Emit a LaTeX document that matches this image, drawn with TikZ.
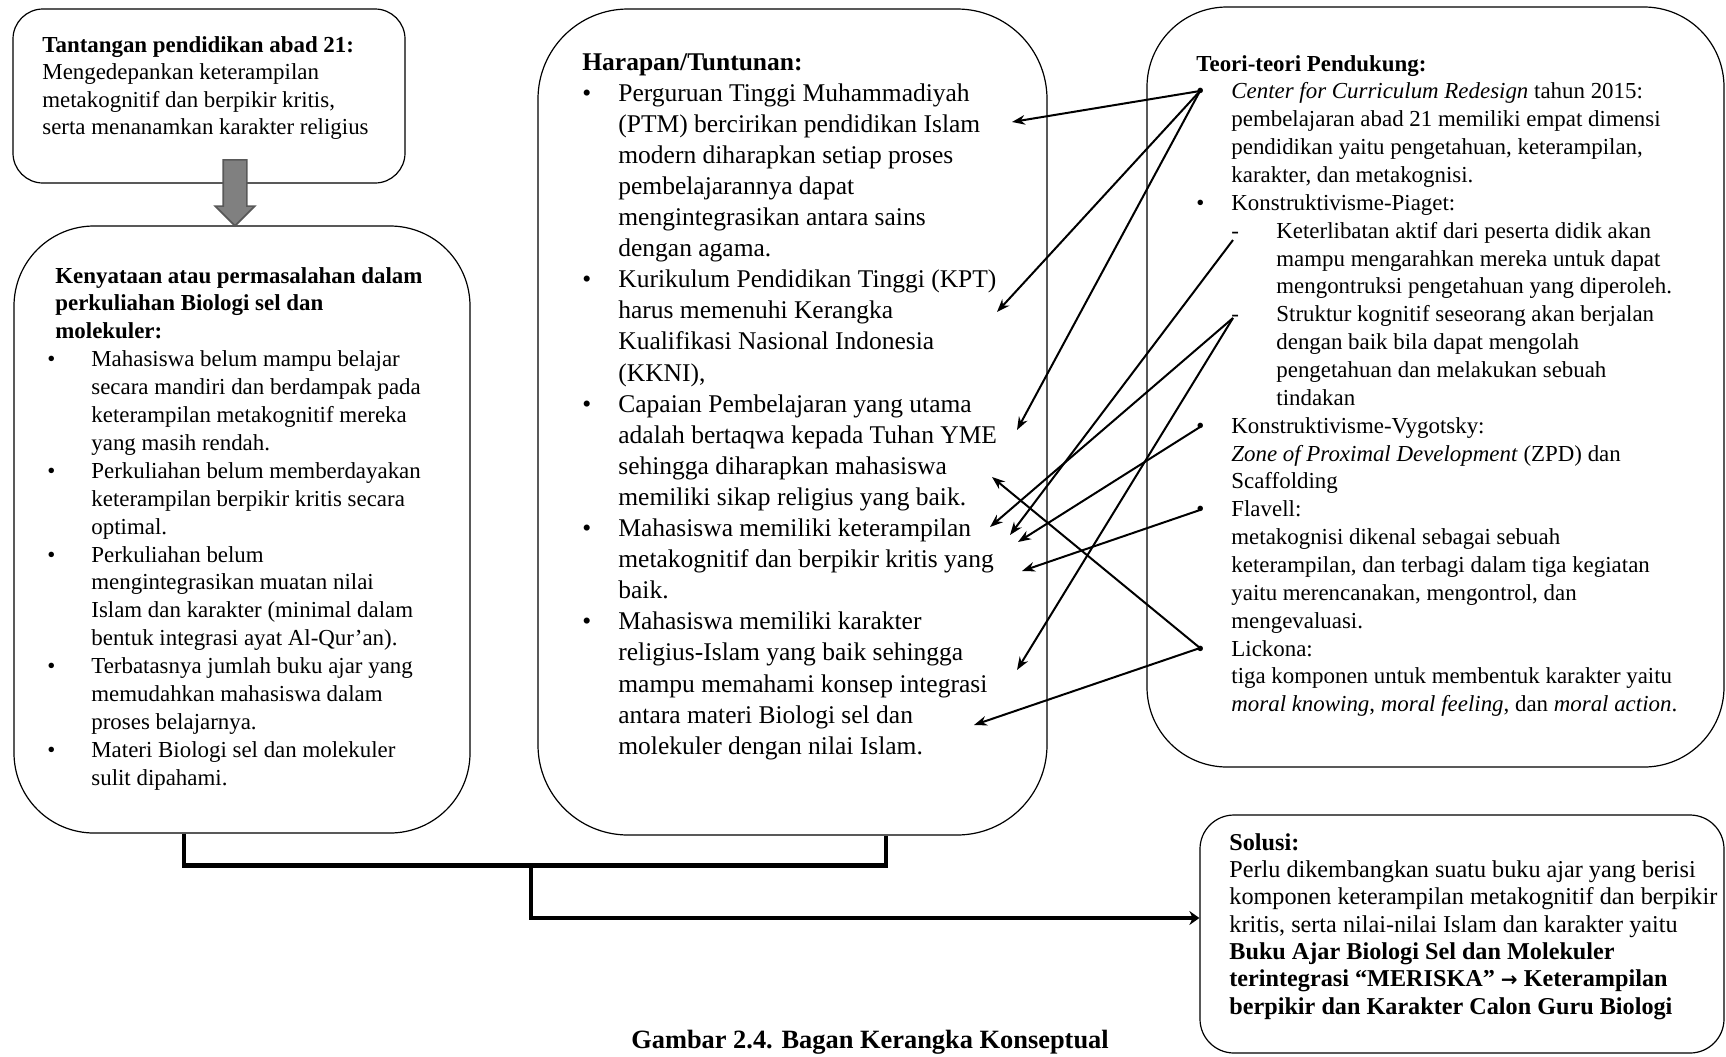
\documentclass[tikz,border=0pt]{standalone}
\usepackage{fontspec}
\setmainfont{Liberation Serif}
\newfontfamily\panahfont{DejaVu Sans}
\usetikzlibrary{shapes.arrows,fit,arrows.meta}

\newcommand{\judul}[1]{\multicolumn{2}{@{}l@{}}{\textbf{#1}}}
\newcommand{\anakbutir}{\makebox[22.5pt][l]{-}}
\newcommand{\anaksisa}{\hspace*{22.5pt}}

\tikzset{
  kotak/.style={draw, line width=0.6pt, inner sep=0pt},
  teks/.style={anchor=base west, inner sep=0pt},
  panah/.style={->, >={Stealth[length=6.5pt,width=4.8pt]}, line width=1pt},
  garis/.style={line width=2.2pt},
}

\begin{document}
\begin{tikzpicture}[x=0.5pt, y=-0.5pt]
  \useasboundingbox (0,0) rectangle (1726,1056);
  % --------
  % Kotak
  % --------
  \node[kotak, rounded corners=15pt, fit={(13,9) (405,183)}] (tantangan) {};
  \node[kotak, rounded corners=40pt, fit={(14,226) (470,833)}] (kenyataan) {};
  \node[kotak, rounded corners=45pt, fit={(538,9) (1047,835)}] (harapan) {};
  \node[kotak, rounded corners=40pt, fit={(1147,7) (1724,767)}] (teori) {};
  \node[kotak, rounded corners=17pt, fit={(1200,815) (1724,1053)}] (solusi) {};

  % --------
  % Isi kotak
  % --------
  \node[teks, font=\fontsize{11.45}{13.75}\selectfont] at (42,52) (tantanganTeks) {%
    \begin{tabular}[t]{@{}l@{}}
      \textbf{Tantangan pendidikan abad 21:}\\
      Mengedepankan keterampilan\\
      metakognitif dan berpikir kritis,\\
      serta menanamkan karakter religius
    \end{tabular}};

  \node[teks, font=\fontsize{11.45}{13.95}\selectfont] at (47,283) (kenyataanTeks) {%
    \begin{tabular}[t]{@{}p{22pt}@{}l@{}}
      \judul{\hspace*{4pt}Kenyataan atau permasalahan dalam}\\
      \judul{\hspace*{4pt}perkuliahan Biologi sel dan}\\
      \judul{\hspace*{4pt}molekuler:}\\
      \textbullet & Mahasiswa belum mampu belajar\\
      & secara mandiri dan berdampak pada\\
      & keterampilan metakognitif mereka\\
      & yang masih rendah.\\
      \textbullet & Perkuliahan belum memberdayakan\\
      & keterampilan berpikir kritis secara\\
      & optimal.\\
      \textbullet & Perkuliahan belum\\
      & mengintegrasikan muatan nilai\\
      & Islam dan karakter (minimal dalam\\
      & bentuk integrasi ayat Al-Qur’an).\\
      \textbullet & Terbatasnya jumlah buku ajar yang\\
      & memudahkan mahasiswa dalam\\
      & proses belajarnya.\\
      \textbullet & Materi Biologi sel dan molekuler\\
      & sulit dipahami.
    \end{tabular}};

  \node[teks, font=\fontsize{12.75}{15.55}\selectfont] at (582,70) (harapanTeks) {%
    \begin{tabular}[t]{@{}p{18pt}@{}l@{}}
      \judul{Harapan/Tuntunan:}\\
      \textbullet & Perguruan Tinggi Muhammadiyah\\
      & (PTM) bercirikan pendidikan Islam\\
      & modern diharapkan setiap proses\\
      & pembelajarannya dapat\\
      & mengintegrasikan antara sains\\
      & dengan agama.\\
      \textbullet & Kurikulum Pendidikan Tinggi (KPT)\\
      & harus memenuhi Kerangka\\
      & Kualifikasi Nasional Indonesia\\
      & (KKNI),\\
      \textbullet & Capaian Pembelajaran yang utama\\
      & adalah bertaqwa kepada Tuhan YME\\
      & sehingga diharapkan mahasiswa\\
      & memiliki sikap religius yang baik.\\
      \textbullet & Mahasiswa memiliki keterampilan\\
      & metakognitif dan berpikir kritis yang\\
      & baik.\\
      \textbullet & Mahasiswa memiliki karakter\\
      & religius-Islam yang baik sehingga\\
      & mampu memahami konsep integrasi\\
      & antara materi Biologi sel dan\\
      & molekuler dengan nilai Islam.
    \end{tabular}};

  \node[teks, font=\fontsize{11.45}{13.93}\selectfont] at (1196,71) (teoriTeks) {%
    \begin{tabular}[t]{@{}p{17.5pt}@{}l@{}}
      \judul{Teori-teori Pendukung:}\\
      \textbullet & \textit{Center for Curriculum Redesign} tahun 2015:\\
      & pembelajaran abad 21 memiliki empat dimensi\\
      & pendidikan yaitu pengetahuan, keterampilan,\\
      & karakter, dan metakognisi.\\
      \textbullet & Konstruktivisme-Piaget:\\
      & \anakbutir Keterlibatan aktif dari peserta didik akan\\
      & \anaksisa mampu mengarahkan mereka untuk dapat\\
      & \anaksisa mengontruksi pengetahuan yang diperoleh.\\
      & \anakbutir Struktur kognitif seseorang akan berjalan\\
      & \anaksisa dengan baik bila dapat mengolah\\
      & \anaksisa pengetahuan dan melakukan sebuah\\
      & \anaksisa tindakan\\
      \textbullet & Konstruktivisme-Vygotsky:\\
      & \textit{Zone of Proximal Development} (ZPD) dan\\
      & Scaffolding\\
      \textbullet & Flavell:\\
      & metakognisi dikenal sebagai sebuah\\
      & keterampilan, dan terbagi dalam tiga kegiatan\\
      & yaitu merencanakan, mengontrol, dan\\
      & mengevaluasi.\\
      \textbullet & Lickona:\\
      & tiga komponen untuk membentuk karakter yaitu\\
      & \textit{moral knowing}, \textit{moral feeling}, dan \textit{moral action}.
    \end{tabular}};

  \node[teks, font=\fontsize{12.1}{13.67}\selectfont] at (1229,850) (solusiTeks) {%
    \begin{tabular}[t]{@{}l@{}}
      \textbf{Solusi:}\\
      Perlu dikembangkan suatu buku ajar yang berisi\\
      komponen keterampilan metakognitif dan berpikir\\
      kritis, serta nilai-nilai Islam dan karakter yaitu\\
      \textbf{Buku Ajar Biologi Sel dan Molekuler}\\
      \textbf{terintegrasi “MERISKA” {\panahfont\fontsize{10}{12}\selectfont→} Keterampilan}\\
      \textbf{berpikir dan Karakter Calon Guru Biologi}
    \end{tabular}};

  \node[anchor=base, inner sep=0pt, font=\bfseries\fontsize{13.2}{15}\selectfont] at (870,1048) (judulGambar) {Gambar 2.4. Bagan Kerangka Konseptual};

  % --------
  % Titik panah
  % --------
  \coordinate (ccr) at (1200,91);
  \coordinate (piaget1) at (1233,240);
  \coordinate (piaget2) at (1233,318);
  \coordinate (vygotsky) at (1200,427);
  \coordinate (flavell) at (1200,510);
  \coordinate (lickona) at (1200,648);

  \coordinate (ptm) at (1012,122);
  \coordinate (kpt) at (997,312);
  \coordinate (capaian) at (1017,430);
  \coordinate (religius) at (992,477);
  \coordinate (meta1) at (990,527);
  \coordinate (meta2) at (1010,535);
  \coordinate (meta3) at (1018,542);
  \coordinate (kritis) at (1022,571);
  \coordinate (karakter) at (1017,670);
  \coordinate (integrasi) at (974,725);
  \coordinate (cabang) at (531,865);

  % Draw line
  \node[single arrow, draw=black!65, fill=black!50, line width=0.8pt, rotate=-90,
        inner xsep=0pt, inner ysep=5.5pt, minimum width=0pt, minimum height=33pt,
        single arrow head extend=4pt, anchor=tip] at (235,227) (turun) {};

  \draw[panah] (ccr) -- (ptm);
  \draw[panah] (ccr) -- (kpt);
  \draw[panah] (ccr) -- (capaian);
  \draw[panah] (piaget1) -- (meta2);
  \draw[panah] (piaget2) -- (meta1);
  \draw[panah] (piaget2) -- (karakter);
  \draw[panah] (vygotsky) -- (meta3);
  \draw[panah] (flavell) -- (kritis);
  \draw[panah] (lickona) -- (religius);
  \draw[panah] (lickona) -- (integrasi);

  \draw[garis] ([xshift=-29pt]kenyataan.south) -- ++(0,32) -| ([xshift=46.75pt]harapan.south);
  \draw[garis, -{Stealth[length=5pt,width=7pt]}] (cabang) |- ([yshift=8pt]solusi.west);
\end{tikzpicture}
\end{document}
